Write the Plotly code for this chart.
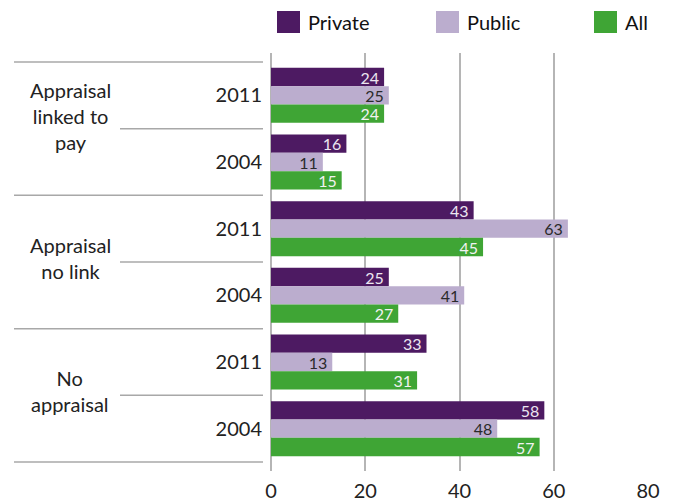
import plotly.graph_objects as go

# ---- data ----
row_labels = ["2011", "2004", "2011", "2004", "2011", "2004"]
group_labels = ["Appraisal<br>linked to<br>pay", "Appraisal<br>no link", "No<br>appraisal"]
private = [24, 16, 43, 25, 33, 58]
public = [25, 11, 63, 41, 13, 48]
all_ = [24, 15, 45, 27, 31, 57]
series_names = ["Private", "Public", "All"]
x_ticks = [0, 20, 40, 60, 80]

# ---- style ----
OFF = 8  # page body margin
W, H = 675 - OFF, 504 - OFF
L, R, T, B = 271 - OFF, 675 - 648, 53 - OFF, 504 - 471
PW, PH = W - L - R, H - T - B
colors = ["#4d1a62", "#bbadce", "#3fa535"]
text_colors = ["#ece6f0", "#2a2a2a", "#f2f2f2"]
FONT = "Lato"
grid_c = "#b5b5b5"
group_yshift = [13, 4, 4]


def px_x(px):
    # px is in page pixels of the reference
    return (px - OFF - L) / PW


def px_y(py):
    return 1 - (py - OFF - T) / PH


pos = list(range(len(row_labels)))
fig = go.Figure()
for name, vals, c, tc in zip(series_names, [private, public, all_], colors, text_colors):
    fig.add_trace(go.Bar(
        y=pos, x=vals, orientation="h", name=name,
        marker=dict(color=c, line=dict(width=0)),
        text=[str(v) for v in vals], textposition="inside",
        insidetextanchor="end", constraintext="none",
        texttemplate="%{text}\u2009",
        textfont=dict(family=FONT, size=16, color=tc),
        showlegend=False,
    ))

shapes = []
# dividers
for yv in [-0.5, 1.5, 3.5, 5.5]:
    shapes.append(dict(type="line", xref="paper", yref="y", x0=px_x(14), x1=px_x(263),
                       y0=yv, y1=yv, line=dict(color="#a8a8a8", width=1.5)))
for yv in [0.5, 2.5, 4.5]:
    shapes.append(dict(type="line", xref="paper", yref="y", x0=px_x(120), x1=px_x(263),
                       y0=yv, y1=yv, line=dict(color="#a8a8a8", width=1.5)))

annotations = []
for i, g in enumerate(group_labels):
    annotations.append(dict(text=g, xref="paper", yref="y", x=px_x(70), y=2 * i + 0.5,
                            xanchor="center", yanchor="middle", showarrow=False,
                            yshift=group_yshift[i],
                            font=dict(family=FONT, size=20, color="#222222")))

# manual legend
leg_x = [277, 436, 594]
for name, c, lx in zip(series_names, colors, leg_x):
    shapes.append(dict(type="rect", xref="paper", yref="paper", x0=px_x(lx), x1=px_x(lx + 23),
                       y0=px_y(33), y1=px_y(11), fillcolor=c, line=dict(width=0)))
    annotations.append(dict(text=name, xref="paper", yref="paper", x=px_x(lx + 29), y=px_y(22),
                            xanchor="left", yanchor="middle", showarrow=False,
                            font=dict(family=FONT, size=20, color="#111111")))

fig.update_layout(
    width=W, height=H,
    margin=dict(l=L, r=R, t=T, b=B, pad=0, autoexpand=False),
    paper_bgcolor="white", plot_bgcolor="white",
    barmode="group", bargap=0.175, bargroupgap=0,
    showlegend=False,
    shapes=shapes, annotations=annotations,
    uniformtext=dict(mode="show", minsize=16),
    font=dict(family=FONT, size=20, color="#222222"),
)
fig.update_xaxes(range=[0, 80], tickvals=x_ticks, showgrid=True, gridcolor=grid_c, gridwidth=1.5,
                 zeroline=True, zerolinecolor=grid_c, zerolinewidth=1.5, showline=False,
                 automargin=False,
                 tickfont=dict(family=FONT, size=20, color="#222222"), ticks="", ticklabelstandoff=6)
fig.update_yaxes(range=[5.635, -0.635], tickvals=pos, ticktext=row_labels, showgrid=False,
                 zeroline=False, showline=False, ticks="", ticklabelstandoff=8, automargin=False,
                 tickfont=dict(family=FONT, size=20, color="#222222"))

fig.write_html("out.html")
